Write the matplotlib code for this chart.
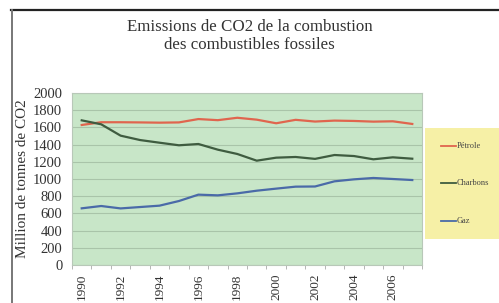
import matplotlib.pyplot as plt
from matplotlib.lines import Line2D
from matplotlib.patches import Rectangle

# Données (millions de tonnes de CO2)
annees = list(range(1990, 2008))
petrole = [1628, 1660, 1660, 1658, 1655, 1658, 1697, 1684, 1712, 1690, 1648, 1688, 1668, 1679, 1675, 1667, 1671, 1640]
charbons = [1682, 1636, 1504, 1453, 1422, 1392, 1407, 1341, 1291, 1213, 1248, 1256, 1234, 1279, 1267, 1229, 1252, 1236]
gaz = [659, 686, 658, 674, 690, 744, 818, 810, 833, 864, 888, 911, 913, 973, 996, 1012, 1000, 988]
series = ["Pétrole", "Charbons", "Gaz"]
couleurs = ["#e0654e", "#3f5c40", "#4a6aa8"]

plt.rcParams['font.family'] = ['Liberation Serif', 'DejaVu Serif']

fig = plt.figure(figsize=(4.99, 3.03), dpi=100)
fig.patch.set_facecolor("white")

# cadre extérieur (coupé à droite et en bas)
fig.add_artist(Line2D([11/499, 1.0], [1 - 9.5/303, 1 - 9.5/303], color="#222222", lw=1.6))
fig.add_artist(Line2D([11.5/499, 11.5/499], [0, 1 - 9.5/303], color="#777777", lw=1.4))

ax = fig.add_axes([72/499, 1 - 265/303, 350/499, 172/303])
ax.set_facecolor("#c8e6c8")
x = list(range(len(annees)))
for nom, vals, c in zip(series, [petrole, charbons, gaz], couleurs):
    ax.plot(x, vals, color=c, lw=1.6, label=nom)

ax.set_xlim(-0.5, len(annees) - 0.5)
ax.set_ylim(0, 2000)
ax.set_yticks(range(0, 2001, 200))
ax.yaxis.grid(True, color="#a9c4a9", lw=0.8)
ax.set_axisbelow(True)
ax.set_xticks(x[::2])
ax.set_xticklabels([str(a) for a in annees[::2]], rotation=90, fontsize=9.5, color="#333333")
ax.set_xticks([i - 0.5 for i in range(len(annees) + 1)], minor=True)
ax.tick_params(axis="x", which="major", length=0, pad=6)
ax.tick_params(axis="x", which="minor", length=3, color="#aaaaaa")
ax.tick_params(axis="y", length=0, labelsize=10.5, pad=7, labelcolor="#333333")
for s in ax.spines.values():
    s.set_color("#b8c8b8")
    s.set_linewidth(0.8)
ax.set_ylabel("Million de tonnes de CO2", fontsize=11, color="#333333", labelpad=3)

fig.text(0.5, 1 - 27/303, "Emissions de CO2 de la combustion", ha="center", va="center",
         fontsize=12.2, color="#333333")
fig.text(0.5, 1 - 45/303, "des combustibles fossiles", ha="center", va="center",
         fontsize=12.2, color="#333333")

# légende sur fond jaune
fig.add_artist(Rectangle((425/499, 1 - 239/303), 74/499, 111/303, transform=fig.transFigure,
                         facecolor="#f6f0a6", edgecolor="none"))
ys = [146, 183, 221]
for nom, c, yy in zip(series, couleurs, ys):
    yf = 1 - yy/303
    fig.add_artist(Line2D([441/499, 456/499], [yf, yf], color=c, lw=1.3))
    fig.text(457/499, yf, nom, ha="left", va="center", fontsize=6, color="#444444")

fig.savefig("out.png", dpi=100)
